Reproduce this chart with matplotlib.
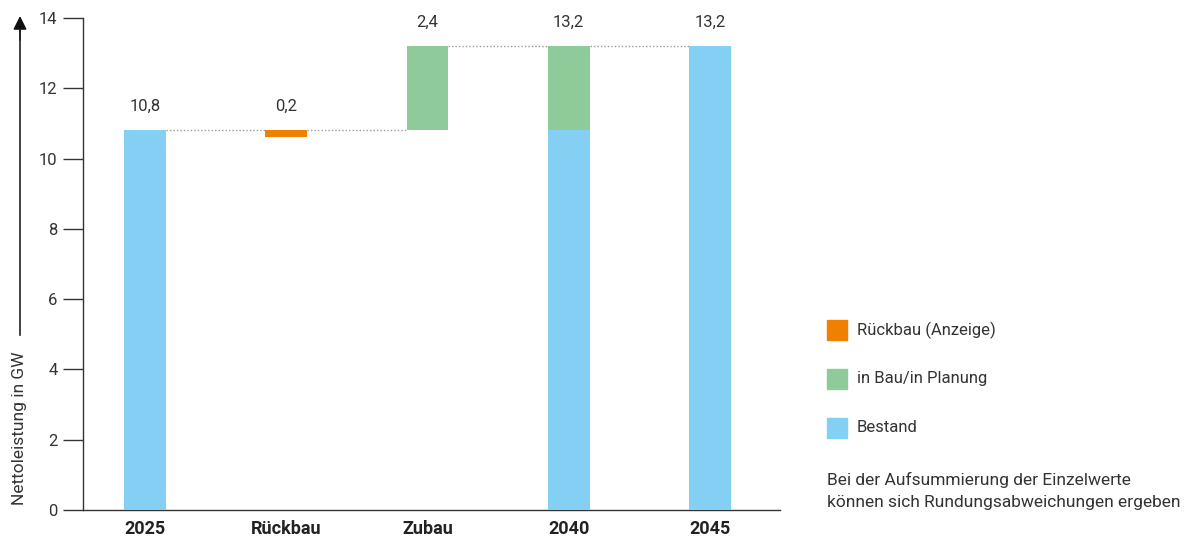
import matplotlib.pyplot as plt

plt.rcParams['font.family'] = ['Roboto', 'DejaVu Sans']

# Werte in GW
categories = ["2025", "Rückbau", "Zubau", "2040", "2045"]
bestand = [10.8, 0, 0, 10.8, 13.2]
rueckbau = [0, 0.2, 0, 0, 0]
zubau = [0, 0, 2.4, 2.4, 0]
value_labels = ["10,8", "0,2", "2,4", "13,2", "13,2"]
label_tops = [10.8, 10.8, 13.2, 13.2, 13.2]
connector_levels = [10.8, 10.8, 13.2, 13.2]

c_blue = "#84d0f5"
c_green = "#8fca9a"
c_orange = "#f08000"
c_text = "#333333"

fig = plt.figure(figsize=(11.84, 5.4), dpi=100)
ax = fig.add_axes([83 / 1184, 30 / 540, (780 - 83) / 1184, 492 / 540])

x = list(range(len(categories)))
w = 0.297

# Rückbau hängt von oben am Bestand, Zubau sitzt auf dem vorherigen Stand
rb_bottom = [10.8 - v if v else 0 for v in rueckbau]
zb_bottom = [10.8 if v else 0 for v in zubau]

ax.bar(x, bestand, width=w, color=c_blue, zorder=3)
ax.bar(x, rueckbau, width=w, bottom=rb_bottom, color=c_orange, zorder=3)
ax.bar(x, zubau, width=w, bottom=zb_bottom, color=c_green, zorder=3)

for i, lvl in enumerate(connector_levels):
    ax.plot([x[i] + w / 2, x[i + 1] - w / 2], [lvl, lvl], color="#9a9a9a",
            linestyle=(0, (1, 1.5)), linewidth=1, zorder=2)

for i, (t, lab) in enumerate(zip(label_tops, value_labels)):
    ax.annotate(lab, (x[i], t), xytext=(0, 12), textcoords="offset points",
                ha="center", va="bottom", fontsize=12, color=c_text)

ax.set_xlim(-0.439, 4.496)
ax.set_ylim(0, 14)
ax.set_yticks(range(0, 15, 2))
ax.set_xticks(x)
ax.set_xticklabels(categories, fontsize=13, fontweight="bold", color="#222222")
ax.tick_params(axis="y", direction="out", length=14.4, width=1, color="#333333",
               labelsize=12, labelcolor=c_text, pad=4)
ax.tick_params(axis="x", length=0, pad=7)

for s in ["top", "right"]:
    ax.spines[s].set_visible(False)
ax.spines["left"].set_color("#333333")
ax.spines["bottom"].set_color("#333333")
ax.spines["left"].set_linewidth(1)
ax.spines["bottom"].set_linewidth(1)

# y-Achsenbeschriftung mit Pfeil
fig.add_artist(plt.Line2D([20 / 1184, 20 / 1184], [1 - 335 / 540, 1 - 30 / 540],
                          color="#222222", linewidth=1.2))
ax.annotate("", xy=(20 / 1184, 1 - 16 / 540), xytext=(20 / 1184, 1 - 40 / 540),
            xycoords="figure fraction",
            arrowprops=dict(arrowstyle="-|>", color="#111111", lw=1.2,
                            mutation_scale=20, shrinkA=0, shrinkB=0))
fig.text(20 / 1184, 1 - 428 / 540, "Nettoleistung in GW", rotation=90,
         ha="center", va="center", fontsize=12.5, color=c_text)

# Legende
legend_items = [("Rückbau (Anzeige)", c_orange), ("in Bau/in Planung", c_green),
                ("Bestand", c_blue)]
for k, (txt, col) in enumerate(legend_items):
    ytop = [320, 369, 418][k]
    fig.patches.append(plt.Rectangle((827 / 1184, 1 - (ytop + 20) / 540),
                                     20 / 1184, 20 / 540, color=col,
                                     transform=fig.transFigure, figure=fig))
    fig.text(857 / 1184, 1 - (ytop + 10) / 540, txt, ha="left", va="center",
             fontsize=12, color=c_text)

fig.text(827 / 1184, 1 - 480 / 540, "Bei der Aufsummierung der Einzelwerte",
         ha="left", va="center", fontsize=12.5, color=c_text)
fig.text(827 / 1184, 1 - 502 / 540, "können sich Rundungsabweichungen ergeben",
         ha="left", va="center", fontsize=12.5, color=c_text)

fig.savefig("out.png", dpi=100)
